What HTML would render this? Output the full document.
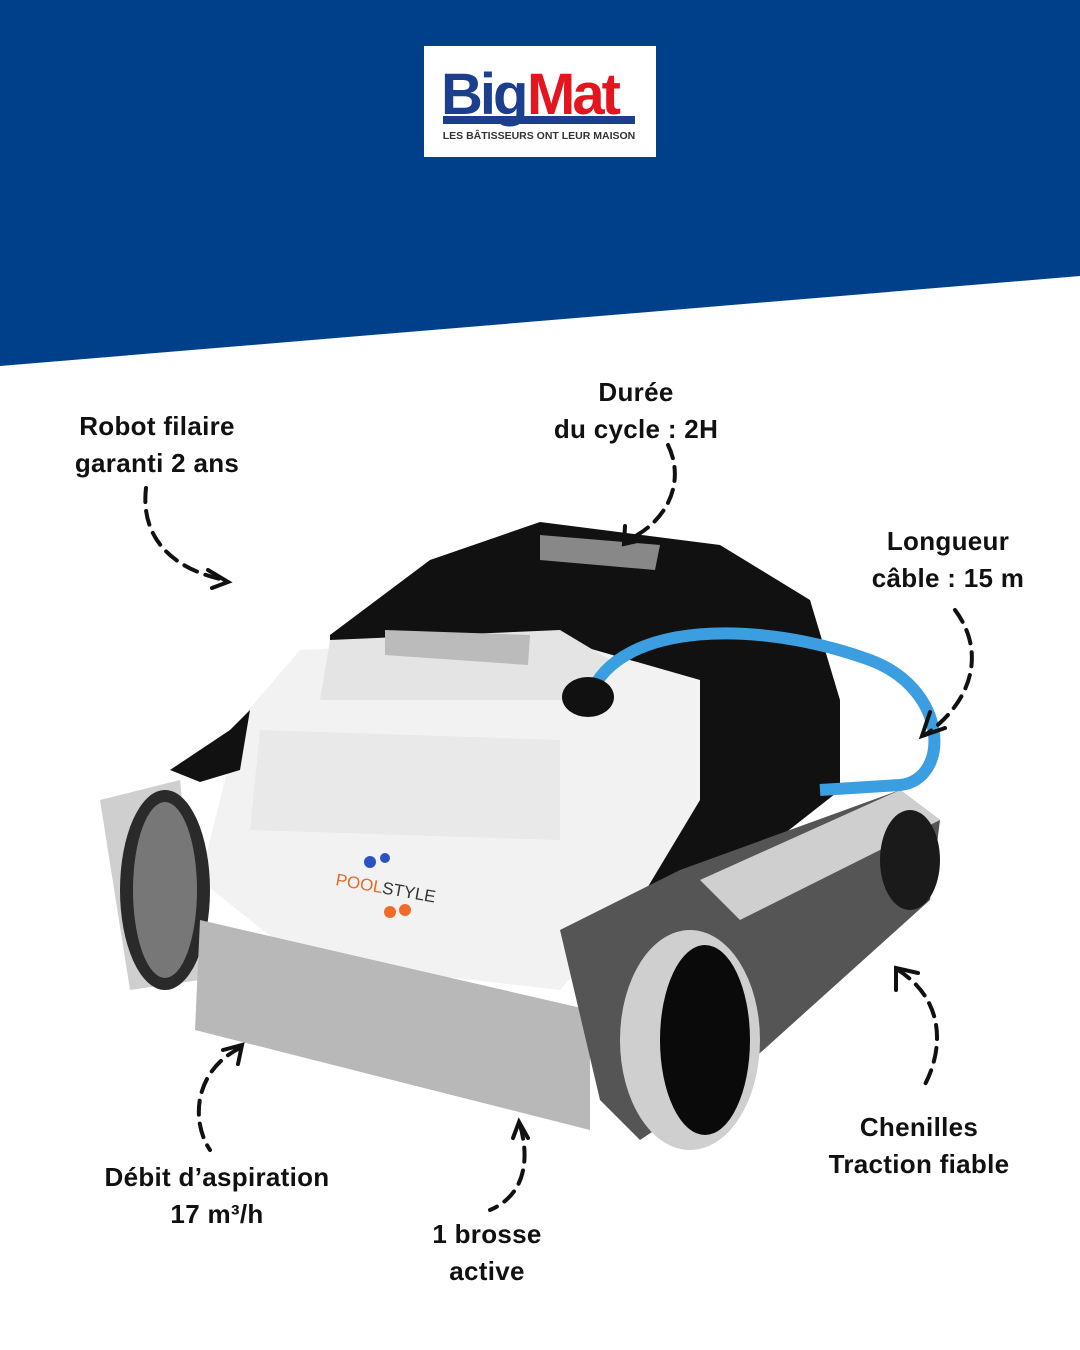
<!DOCTYPE html>
<html><head><meta charset="utf-8"><style>
body{margin:0;width:1080px;height:1350px;overflow:hidden;background:#fff;font-family:"Liberation Sans",sans-serif}
.l{position:absolute;font-weight:bold;font-size:26px;line-height:37px;color:#111;text-align:center;white-space:nowrap;transform:translateX(-50%);letter-spacing:0.3px}
</style></head><body>
<svg width="1080" height="1350" style="position:absolute;left:0;top:0">
<polygon points="0,0 1080,0 1080,276 0,366" fill="#003f8a"/>
<rect x="424" y="46" width="232" height="111" fill="#fff"/>
<text x="441" y="114" font-family="Liberation Sans" font-weight="900" font-size="58" fill="#1b3f8e" letter-spacing="-3">Big</text>
<text x="527" y="114" font-family="Liberation Sans" font-weight="900" font-size="58" fill="#e3161f" letter-spacing="-3">Mat</text>
<rect x="443" y="116" width="192" height="8" fill="#1b3f8e"/>
<text x="539" y="139" text-anchor="middle" font-family="Liberation Sans" font-weight="bold" font-size="10.5" fill="#333">LES BÂTISSEURS ONT LEUR MAISON</text>
<g>
<path d="M330 635 L430 560 L540 522 L720 545 L810 600 L840 700 L840 790 L700 900 L600 930 L330 700 Z" fill="#111"/>
<path d="M540 535 L660 545 L655 570 L540 560 Z" fill="#888"/>
<path d="M300 650 L560 640 L700 680 L700 800 L640 900 L560 990 L300 960 L200 880 L240 720 Z" fill="#f2f2f2"/>
<path d="M330 640 L560 630 L610 660 L600 700 L320 700 Z" fill="#e4e4e4"/>
<path d="M385 630 L530 635 L528 665 L385 655 Z" fill="#bbb"/>
<path d="M260 730 L560 740 L560 840 L250 830 Z" fill="#e9e9e9"/>
<path d="M100 800 L180 780 L200 980 L130 990 Z" fill="#cfcfcf"/>
<ellipse cx="165" cy="890" rx="45" ry="100" fill="#2a2a2a"/>
<ellipse cx="165" cy="890" rx="32" ry="88" fill="#777"/>
<path d="M200 920 L590 1010 L590 1130 L195 1030 Z" fill="#b8b8b8"/>
<path d="M560 930 L680 870 L900 790 L940 820 L930 900 L730 1080 L640 1140 L600 1100 Z" fill="#555"/>
<path d="M700 880 L900 790 L940 820 L740 920 Z" fill="#cfcfcf"/>
<ellipse cx="690" cy="1040" rx="70" ry="110" fill="#cfcfcf"/>
<ellipse cx="705" cy="1040" rx="45" ry="95" fill="#0a0a0a"/>
<ellipse cx="910" cy="860" rx="30" ry="50" fill="#1a1a1a"/>
<path d="M590 695 C620 620 760 620 870 660 C950 690 950 780 900 785 L820 790" stroke="#3a9ee0" stroke-width="12" fill="none"/>
<ellipse cx="588" cy="697" rx="26" ry="20" fill="#111"/>
<path d="M170 770 L230 730 L250 710 L240 770 L200 782 Z" fill="#111"/>
<circle cx="370" cy="862" r="6" fill="#2b52c4"/><circle cx="385" cy="858" r="5" fill="#2b52c4"/>
<text x="335" y="885" font-family="Liberation Sans" font-size="17" fill="#e46a2a" transform="rotate(10 335 885)">POOL<tspan fill="#333">STYLE</tspan></text>
<circle cx="390" cy="912" r="6" fill="#f06a2a"/><circle cx="405" cy="910" r="6" fill="#f06a2a"/>
</g>
<g stroke="#111" stroke-width="4" fill="none" stroke-dasharray="14 9" stroke-linecap="round">
<path d="M146 488 C140 540 175 570 225 580"/>
<path d="M668 445 C685 480 670 520 628 540"/>
<path d="M955 610 C985 650 975 700 925 735"/>
<path d="M240 1048 C195 1070 190 1120 210 1150"/>
<path d="M520 1125 C530 1160 525 1195 490 1210"/>
<path d="M898 970 C945 1000 945 1050 922 1090"/>
</g>
<g stroke="#111" stroke-width="4" fill="none" stroke-linecap="round">
<path d="M208 570 L228 582 L212 588"/>
<path d="M625 526 L624 544 L642 540"/>
<path d="M930 712 L922 736 L945 728"/>
<path d="M223 1050 L242 1045 L238 1064"/>
<path d="M513 1138 L519 1122 L528 1138"/>
<path d="M896 990 L896 968 L918 973"/>
</g>
</svg>
<div class="l" style="left:157px;top:408px">Robot filaire<br>garanti 2 ans</div>
<div class="l" style="left:636px;top:374px">Durée<br>du cycle : 2H</div>
<div class="l" style="left:948px;top:523px">Longueur<br>câble : 15 m</div>
<div class="l" style="left:217px;top:1159px">Débit d’aspiration<br>17 m³/h</div>
<div class="l" style="left:487px;top:1216px">1 brosse<br>active</div>
<div class="l" style="left:919px;top:1109px">Chenilles<br>Traction fiable</div>
</body></html>
